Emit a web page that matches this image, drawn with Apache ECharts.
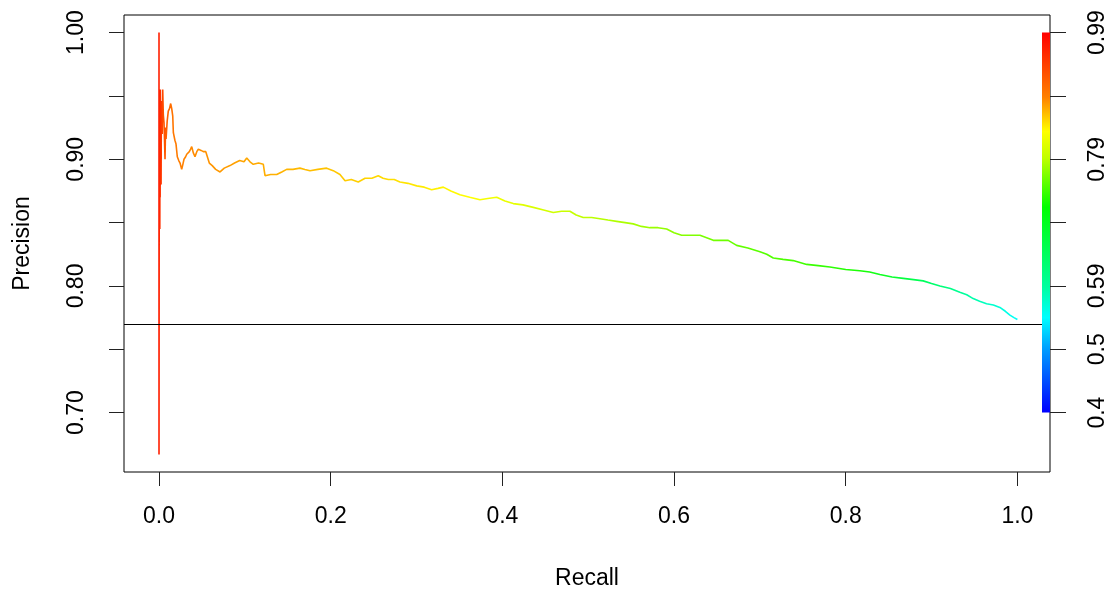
<!DOCTYPE html>
<html><head><meta charset="utf-8">
<script src="https://cdn.jsdelivr.net/npm/echarts@6/dist/echarts.min.js"></script>
<style>html,body{margin:0;padding:0;background:#fff}#c{width:1112px;height:595px}</style>
</head><body><div id="c"></div>
<script>
const recall = [
0, 0, 0.0003, 0.0005, 0.0007, 0.0009, 0.0011, 0.0013, 0.0015, 0.0018,
0.0021, 0.0024, 0.0027, 0.0031, 0.0037, 0.0043, 0.0050, 0.0058, 0.0064, 0.0070,
0.0076, 0.0082, 0.0095, 0.0108, 0.0122, 0.0136, 0.0148, 0.0160, 0.0167, 0.0185,
0.0198, 0.0213, 0.0230, 0.0245, 0.0264, 0.0278, 0.0291, 0.0310, 0.0323, 0.0340,
0.0353, 0.0368, 0.0381, 0.0400, 0.0419, 0.0440, 0.0458, 0.0490, 0.0516, 0.0545,
0.0563, 0.0586, 0.0620, 0.0660, 0.0711, 0.0760, 0.0827, 0.0880, 0.0940, 0.0990,
0.1022, 0.1060, 0.1098, 0.1160, 0.1215, 0.1235, 0.1300, 0.1371, 0.1430, 0.1487,
0.1560, 0.1642, 0.1700, 0.1759, 0.1850, 0.1953, 0.2030, 0.2108, 0.2167, 0.2240,
0.2321, 0.2400, 0.2480, 0.2554, 0.2610, 0.2671, 0.2740, 0.2807, 0.2900, 0.3002,
0.3090, 0.3176, 0.3250, 0.3312, 0.3400, 0.3506, 0.3620, 0.3739, 0.3830, 0.3934,
0.4030, 0.4127, 0.4240, 0.4360, 0.4480, 0.4593, 0.4690, 0.4787, 0.4860, 0.4942,
0.5040, 0.5137, 0.5230, 0.5331, 0.5430, 0.5525, 0.5620, 0.5719, 0.5814, 0.5914,
0.6000, 0.6089, 0.6200, 0.6302, 0.6380, 0.6457, 0.6540, 0.6631, 0.6729, 0.6860,
0.7001, 0.7080, 0.7156, 0.7270, 0.7388, 0.7545, 0.7680, 0.7816, 0.8000, 0.8165,
0.8280, 0.8398, 0.8540, 0.8670, 0.8790, 0.8903, 0.9000, 0.9098, 0.9220, 0.9330,
0.9410, 0.9485, 0.9560, 0.9641, 0.9720, 0.9796, 0.9860, 0.9913, 0.9960, 1.0000
];
const precision = [
1.000, 0.667, 0.950, 0.850, 0.940, 0.845, 0.930, 0.870, 0.955, 0.900,
0.945, 0.880, 0.935, 0.946, 0.920, 0.955, 0.935, 0.929, 0.915, 0.900,
0.925, 0.916, 0.930, 0.938, 0.940, 0.944, 0.940, 0.934, 0.921, 0.915,
0.912, 0.902, 0.899, 0.897, 0.892, 0.896, 0.900, 0.902, 0.904, 0.903,
0.906, 0.908, 0.910, 0.905, 0.902, 0.906, 0.908, 0.907, 0.906, 0.906,
0.905, 0.897, 0.895, 0.892, 0.890, 0.893, 0.895, 0.897, 0.899, 0.898,
0.901, 0.898, 0.896, 0.897, 0.896, 0.887, 0.888, 0.888, 0.890, 0.892,
0.892, 0.893, 0.892, 0.891, 0.892, 0.893, 0.891, 0.888, 0.883, 0.884,
0.882, 0.885, 0.885, 0.887, 0.885, 0.884, 0.884, 0.882, 0.881, 0.879,
0.878, 0.876, 0.877, 0.878, 0.875, 0.872, 0.870, 0.868, 0.869, 0.870,
0.867, 0.865, 0.864, 0.862, 0.860, 0.858, 0.859, 0.859, 0.856, 0.854,
0.854, 0.853, 0.852, 0.851, 0.850, 0.849, 0.847, 0.846, 0.846, 0.845,
0.842, 0.840, 0.840, 0.840, 0.838, 0.836, 0.836, 0.836, 0.832, 0.830,
0.827, 0.825, 0.822, 0.821, 0.820, 0.817, 0.816, 0.815, 0.813, 0.812,
0.811, 0.809, 0.807, 0.806, 0.805, 0.804, 0.802, 0.800, 0.798, 0.795,
0.793, 0.790, 0.788, 0.786, 0.785, 0.783, 0.780, 0.777, 0.775, 0.7735
];
const baseline = 0.7726;
const xTicks = [0, 0.2, 0.4, 0.6, 0.8, 1.0];
const yTicks = [0.70, 0.75, 0.80, 0.85, 0.90, 0.95, 1.00];
const yLabelValues = [0.70, 0.80, 0.90, 1.00];
const scoreTickLabels = ['0.4', '0.5', '0.59', '', '0.79', '', '0.99'];
const lineColorStops = [
  [0, '#FF0000'], [0.003, '#FF2000'], [0.008, '#FF5000'], [0.02, '#FF7800'], [0.045, '#FF8C00'],
  [0.1, '#FFA500'], [0.2, '#FFC400'], [0.3, '#FFE800'], [0.36, '#FFFF00'],
  [0.45, '#D4FF00'], [0.55, '#A8FF00'], [0.65, '#70FF00'], [0.75, '#40FF00'],
  [0.82, '#18FF08'], [0.88, '#00FF50'], [0.95, '#00FFB0'], [1, '#00FFFF']
];
const barColorStops = [
  [0, '#FF0000'], [0.17, '#FF8000'], [0.26, '#FFFF00'], [0.33, '#C0FF00'],
  [0.46, '#00FF00'], [0.67, '#00FFA0'], [0.75, '#00FFFF'], [0.83, '#00A0FF'], [1, '#0000FF']
];

const FONT = '"Liberation Sans", Arial, sans-serif';
const chart = echarts.init(document.getElementById('c'), null, {renderer: 'canvas'});
const data = recall.map((r, i) => [r, precision[i]]);
const mk = (stops) => stops.map(s => ({offset: s[0], color: s[1]}));

const option = {
  animation: false,
  backgroundColor: '#fff',
  grid: {left: 124, right: 62, top: 15, bottom: 121, show: true, borderColor: '#000', borderWidth: 1, backgroundColor: 'transparent'},
  xAxis: {
    type: 'value', min: -0.0408, max: 1.038,
    name: 'Recall', nameLocation: 'middle', nameGap: 95,
    nameTextStyle: {fontFamily: FONT, fontSize: 23, color: '#000'},
    axisLine: {show: false, onZero: false},
    splitLine: {show: false},
    axisTick: {show: true, inside: false, length: 14, customValues: xTicks, lineStyle: {color: '#222', width: 1}},
    axisLabel: {customValues: xTicks, margin: 33, fontFamily: FONT, fontSize: 23, color: '#000', formatter: v => v.toFixed(1)}
  },
  yAxis: [{
    type: 'value', min: 0.6531, max: 1.0139,
    name: 'Precision', nameLocation: 'middle', nameGap: 90,
    nameTextStyle: {fontFamily: FONT, fontSize: 23, color: '#000'},
    axisLine: {show: false, onZero: false},
    splitLine: {show: false},
    axisTick: {show: true, inside: false, length: 15, customValues: yTicks, lineStyle: {color: '#222', width: 1}},
    axisLabel: {customValues: yLabelValues, rotate: 90, margin: 36, fontFamily: FONT, fontSize: 23, color: '#000', formatter: v => v.toFixed(2)}
  }, {
    type: 'value', position: 'right', min: -0.938, max: 6.278,
    axisLine: {show: false, onZero: false},
    splitLine: {show: false},
    axisTick: {show: true, inside: false, length: 16, customValues: [0,1,2,3,4,5,6], lineStyle: {color: '#222', width: 1}},
    axisLabel: {customValues: [0,1,2,3,4,5,6], rotate: 90, margin: 36, fontFamily: FONT, fontSize: 23, color: '#000', formatter: v => scoreTickLabels[Math.round(v)] || ''}
  }],
  series: [{
    type: 'line', data: data, symbol: 'none', clip: true,
    lineStyle: {width: 1.6, color: new echarts.graphic.LinearGradient(0, 0, 1, 0, mk(lineColorStops))},
    markLine: {
      silent: true, symbol: ['none', 'none'], label: {show: false},
      lineStyle: {color: '#000', width: 1, type: 'solid'},
      data: [{yAxis: baseline}]
    }
  }]
};
chart.setOption(option);

// colour-scale bar along the right axis, spanning the score ticks
const yTop = chart.convertToPixel({yAxisIndex: 1}, scoreTickLabels.length - 1);
const yBot = chart.convertToPixel({yAxisIndex: 1}, 0);
const xRight = 1112 - 62;
chart.setOption({
  graphic: [{
    type: 'rect', z: 5,
    shape: {x: xRight - 8, y: yTop, width: 8, height: yBot - yTop},
    style: {fill: new echarts.graphic.LinearGradient(0, 0, 0, 1, mk(barColorStops))}
  }]
});
</script></body></html>
